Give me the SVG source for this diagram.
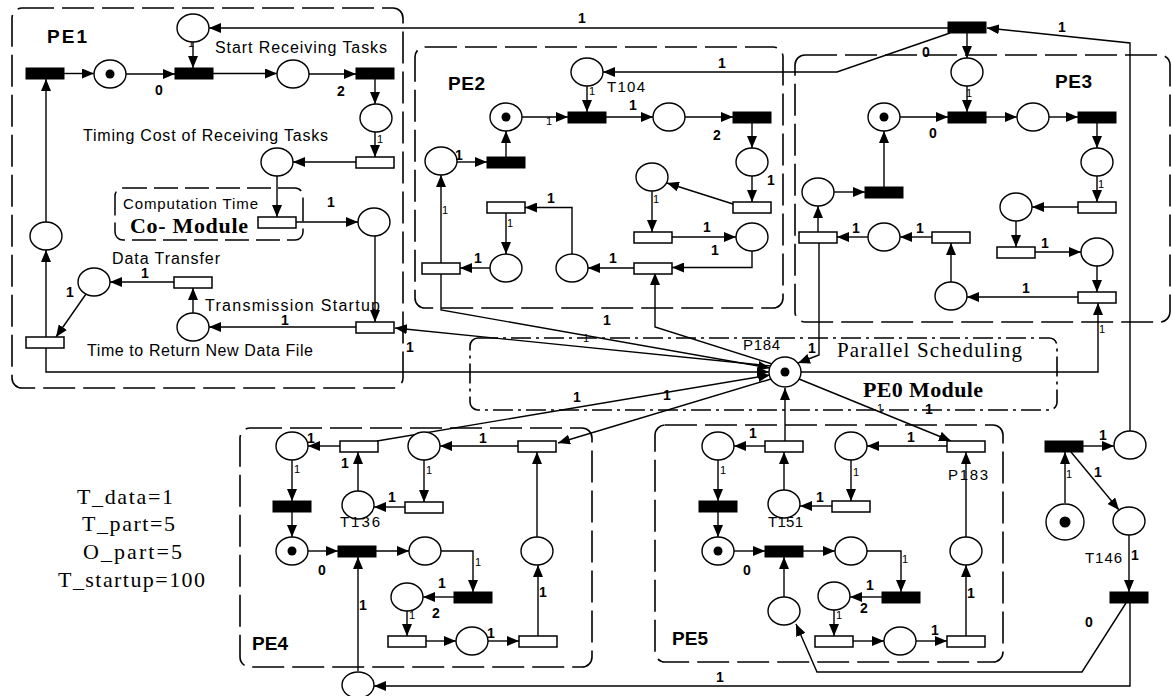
<svg xmlns="http://www.w3.org/2000/svg" width="1172" height="696" viewBox="0 0 1172 696">
<style>
.pl{fill:#fff;stroke:#000;stroke-width:1.4}
.tk{fill:#000}
.tb{fill:#000;stroke:#000;stroke-width:1}
.tw{fill:#fff;stroke:#000;stroke-width:1.5}
.ar{fill:none;stroke:#000;stroke-width:1.4;marker-end:url(#ah)}
.ln{fill:none;stroke:#000;stroke-width:1.4}
.box{fill:none;stroke:#000;stroke-width:1.6;stroke-dasharray:32 8}
.box0{fill:none;stroke:#000;stroke-width:1.6;stroke-dasharray:20 5 3 5}
.cbox{fill:none;stroke:#000;stroke-width:1.5;stroke-dasharray:24 7}
.n{font-family:"Liberation Sans",Arial,sans-serif;font-size:14px;font-weight:bold}
.s{font-family:"Liberation Sans",Arial,sans-serif;font-size:11px}
.t{font-family:"Liberation Sans",Arial,sans-serif;font-size:16px}
.id{font-family:"Liberation Sans",Arial,sans-serif;font-size:15px}
.pe{font-family:"Liberation Sans",Arial,sans-serif;font-size:19px;font-weight:bold}
.sb{font-family:"Liberation Serif","Times New Roman",serif;font-size:22px;font-weight:bold}
.sr{font-family:"Liberation Serif","Times New Roman",serif;font-size:21px}
.lg{font-family:"Liberation Serif","Times New Roman",serif;font-size:22px}
</style>
<defs>
<marker id="ah" markerUnits="userSpaceOnUse" markerWidth="12" markerHeight="10" refX="12" refY="5" orient="auto"><path d="M0,0 L12,5 L0,10 z" fill="#000"/></marker>
</defs>
<rect x="0" y="0" width="1172" height="696" fill="#fff"/>

<!-- module boxes -->
<g id="modules">
<rect class="box" x="12" y="8" width="391" height="380" rx="10"/>
<rect class="cbox" x="115" y="188" width="188" height="52" rx="8"/>
<rect class="box" x="415" y="47" width="368" height="261" rx="10"/>
<rect class="box" x="795" y="55" width="375" height="267" rx="10"/>
<rect class="box0" x="470" y="338" width="587" height="72" rx="8"/>
<rect class="box" x="240" y="428" width="352" height="239" rx="10"/>
<rect class="box" x="655" y="425" width="348" height="237" rx="10"/>
<text class="pe" x="47" y="43" textLength="40">PE1</text>
<text class="pe" x="448" y="90" textLength="37">PE2</text>
<text class="pe" x="1055" y="88" textLength="37">PE3</text>
<text class="pe" x="252" y="650" textLength="36">PE4</text>
<text class="pe" x="672" y="645" textLength="36">PE5</text>
<text class="t" x="215" y="53" textLength="172">Start Receiving Tasks</text>
<text class="t" x="83" y="141" textLength="245">Timing Cost of Receiving Tasks</text>
<text class="t" x="123" y="209" textLength="135" style="font-size:15px">Computation Time</text>
<text class="sb" x="130" y="233" textLength="118">Co- Module</text>
<text class="t" x="112" y="264" textLength="108">Data Transfer</text>
<text class="t" x="205" y="311" textLength="175">Transmission Startup</text>
<text class="t" x="87" y="356" textLength="226">Time to Return New Data File</text>
<text class="sr" x="837" y="357" textLength="185">Parallel Scheduling</text>
<text class="sb" x="863" y="397" textLength="120">PE0 Module</text>
</g>

<g id="legend">
<text class="lg" x="77" y="504" textLength="96">T_data=1</text>
<text class="lg" x="82" y="531" textLength="93">T_part=5</text>
<text class="lg" x="83" y="559" textLength="99">O_part=5</text>
<text class="lg" x="58" y="587" textLength="147">T_startup=100</text>
</g>

<!-- connectors -->
<g id="connectors">
<!-- PE1 -->
<path class="ar" d="M64,73.5 H94"/>
<path class="ar" d="M126,74 H175"/>
<path class="ar" d="M193,42 V68"/>
<path class="ar" d="M213,73.5 H277"/>
<path class="ar" d="M309,74 H356"/>
<path class="ar" d="M375,79 V104"/>
<path class="ar" d="M375,132 V157"/>
<path class="ar" d="M356,162 H293"/>
<path class="ar" d="M277,176 V217"/>
<path class="ar" d="M296,222 H358"/>
<path class="ar" d="M375,236 V322"/>
<path class="ar" d="M356,327 H209"/>
<path class="ar" d="M193,313 V288"/>
<path class="ar" d="M174,282 H110"/>
<path class="ar" d="M86,294 L56,337"/>
<path class="ar" d="M46,337 V250"/>
<path class="ar" d="M46,222 V79"/>
<path class="ar" d="M46,348 V372 H769"/>
<path class="ar" d="M771,366 L395,328"/>
<path class="ar" d="M948,28 H209"/>
<!-- PE2 -->
<path class="ar" d="M587,86 V112"/>
<path class="ar" d="M522,117 H568"/>
<path class="ar" d="M606,117 H653"/>
<path class="ar" d="M685,117 H733"/>
<path class="ar" d="M752,123 V148"/>
<path class="ar" d="M752,176 V202"/>
<path class="ar" d="M733,204 L667,183"/>
<path class="ar" d="M652,191 V232"/>
<path class="ar" d="M672,237 H736"/>
<path class="ar" d="M752,251 V267.5 H672"/>
<path class="ar" d="M772,364 L655,327 V273"/>
<path class="ar" d="M634,268 H588"/>
<path class="ar" d="M572,254 V207.5 H525"/>
<path class="ar" d="M506,213 V254"/>
<path class="ar" d="M490,268 H460"/>
<path class="ar" d="M441,263 V175"/>
<path class="ar" d="M457,162 H487"/>
<path class="ar" d="M506,157 V131"/>
<path class="ar" d="M441,274 V310 L770,368"/>
<path class="ar" d="M950,33 L837,72 H603"/>
<!-- PE3 -->
<path class="ar" d="M967,33 V58"/>
<path class="ar" d="M967,86 V112"/>
<path class="ar" d="M900,117 H948"/>
<path class="ar" d="M986,117 H1017"/>
<path class="ar" d="M1049,117 H1078"/>
<path class="ar" d="M1097,123 V148"/>
<path class="ar" d="M1097,176 V202"/>
<path class="ar" d="M1078,207 H1032"/>
<path class="ar" d="M1016,221 V247"/>
<path class="ar" d="M1035,252 H1081"/>
<path class="ar" d="M1097,266 V292"/>
<path class="ar" d="M1078,297 H967"/>
<path class="ar" d="M951,282 V243"/>
<path class="ar" d="M932,237 H900"/>
<path class="ar" d="M868,237 H837"/>
<path class="ar" d="M818,232 V206"/>
<path class="ar" d="M834,192 H865"/>
<path class="ar" d="M884,187 V131"/>
<path class="ar" d="M819,243 V355 L798,363"/>
<path class="ar" d="M801,372 H1098 V303"/>
<!-- PE4 -->
<path class="ar" d="M340,446 H308"/>
<path class="ar" d="M518,446 H440"/>
<path class="ar" d="M424,460 V502"/>
<path class="ar" d="M405,507 H374"/>
<path class="ar" d="M358,491 V452"/>
<path class="ar" d="M292,460 V501"/>
<path class="ar" d="M292,512 V537"/>
<path class="ar" d="M308,551 H338"/>
<path class="ar" d="M376,551 H409"/>
<path class="ar" d="M441,551 H473 V592"/>
<path class="ar" d="M454,597 H423"/>
<path class="ar" d="M407,611 V636"/>
<path class="ar" d="M426,641 H456"/>
<path class="ar" d="M488,641 H519"/>
<path class="ar" d="M538,636 V565"/>
<path class="ar" d="M537,537 V452"/>
<path class="ar" d="M358,671 V557"/>
<path class="ar" d="M377,441 L770,375"/>
<path class="ar" d="M771,379 L558,443"/>
<path class="ar" d="M1130,603 V686 H374"/>
<!-- PE5 -->
<path class="ar" d="M765,446 H734"/>
<path class="ar" d="M947,446 H867"/>
<path class="ar" d="M851,460 V501"/>
<path class="ar" d="M832,506 H800"/>
<path class="ar" d="M784,490 V452"/>
<path class="ar" d="M718,460 V501"/>
<path class="ar" d="M718,512 V537"/>
<path class="ar" d="M734,551 H765"/>
<path class="ar" d="M803,551 H835"/>
<path class="ar" d="M867,551 H901 V592"/>
<path class="ar" d="M882,597 H850"/>
<path class="ar" d="M834,610 V636"/>
<path class="ar" d="M853,641 H884"/>
<path class="ar" d="M916,641 H947"/>
<path class="ar" d="M966,636 V565"/>
<path class="ar" d="M966,537 V452"/>
<path class="ar" d="M784,597 V557"/>
<path class="ar" d="M785,441 V388"/>
<path class="ar" d="M799,379 L951,441"/>
<path class="ar" d="M1126,603 L1082,672 H817 L796,624"/>
<!-- control -->
<path class="ar" d="M1130,431 V43 L987,28"/>
<path class="ar" d="M1083,446 H1114"/>
<path class="ar" d="M1071,452 L1119,510"/>
<path class="ar" d="M1065,503 V452"/>
<path class="ar" d="M1129,535 V592"/>

<!-- arc weights -->
<text class="n" x="155" y="95">0</text>
<text class="n" x="337" y="96">2</text>
<text class="n" x="327" y="207">1</text>
<text class="n" x="141" y="278">1</text>
<text class="n" x="66" y="297">1</text>
<text class="n" x="281" y="325">1</text>
<text class="n" x="406" y="352">1</text>
<text class="s" x="188" y="47">1</text>
<text class="s" x="377" y="143">1</text>
<text class="n" x="578" y="23">1</text>
<text class="n" x="629" y="110">1</text>
<text class="n" x="713" y="140">2</text>
<text class="n" x="767" y="185">1</text>
<text class="n" x="455" y="160">1</text>
<text class="n" x="547" y="203">1</text>
<text class="n" x="474" y="263">1</text>
<text class="n" x="609" y="263">1</text>
<text class="n" x="703" y="232">1</text>
<text class="n" x="711" y="255">1</text>
<text class="n" x="718" y="68">1</text>
<text class="s" x="589" y="95">1</text>
<text class="s" x="546" y="125">1</text>
<text class="s" x="653" y="203">1</text>
<text class="s" x="507" y="227">1</text>
<text class="s" x="442" y="214">1</text>
<text class="n" x="603" y="325">1</text>
<text class="s" x="583" y="342">1</text>
<text class="n" x="929" y="138">0</text>
<text class="n" x="922" y="57">0</text>
<text class="n" x="1058" y="32">1</text>
<text class="n" x="852" y="233">1</text>
<text class="n" x="916" y="233">1</text>
<text class="n" x="1041" y="248">1</text>
<text class="n" x="1022" y="293">1</text>
<text class="n" x="808" y="353">1</text>
<text class="s" x="966" y="97">1</text>
<text class="s" x="1098" y="188">1</text>
<text class="s" x="1099" y="333">1</text>
<text class="s" x="877" y="412">1</text>
<text class="n" x="925" y="414">1</text>
<text class="n" x="307" y="443">1</text>
<text class="n" x="341" y="468">1</text>
<text class="n" x="479" y="443">1</text>
<text class="n" x="388" y="502">1</text>
<text class="n" x="573" y="402">1</text>
<text class="n" x="663" y="400">1</text>
<text class="n" x="318" y="575">0</text>
<text class="s" x="475" y="566">1</text>
<text class="n" x="438" y="588">1</text>
<text class="n" x="432" y="618">2</text>
<text class="s" x="409" y="619">1</text>
<text class="n" x="487" y="638">1</text>
<text class="n" x="539" y="597">1</text>
<text class="n" x="359" y="610">1</text>
<text class="s" x="294" y="473">1</text>
<text class="s" x="426" y="474">1</text>
<text class="n" x="716" y="682">1</text>
<text class="n" x="749" y="438">1</text>
<text class="n" x="907" y="442">1</text>
<text class="n" x="816" y="502">1</text>
<text class="n" x="743" y="575">0</text>
<text class="n" x="866" y="590">1</text>
<text class="n" x="860" y="613">2</text>
<text class="n" x="931" y="635">1</text>
<text class="n" x="967" y="598">1</text>
<text class="s" x="853" y="476">1</text>
<text class="s" x="720" y="474">1</text>
<text class="s" x="902" y="563">1</text>
<text class="s" x="836" y="619">1</text>
<text class="s" x="823" y="644">1</text>
<text class="n" x="1085" y="627">0</text>
<text class="n" x="1099" y="440">1</text>
<text class="n" x="1094" y="477">1</text>
<text class="s" x="1066" y="478">1</text>
<text class="n" x="1131" y="560">1</text>
</g>

<!-- PE1 nodes -->
<g id="pe1">
<g id="p1a"><ellipse class="pl" cx="110" cy="74" rx="16" ry="14"/><circle class="tk" cx="110" cy="74" r="4.5"/></g>
<g id="p1b"><ellipse class="pl" cx="193" cy="28" rx="16" ry="14"/></g>
<g id="p1c"><ellipse class="pl" cx="293" cy="74" rx="16" ry="14"/></g>
<g id="p1d"><ellipse class="pl" cx="376" cy="118" rx="16" ry="14"/></g>
<g id="p1e"><ellipse class="pl" cx="277" cy="162" rx="16" ry="14"/></g>
<g id="p1f"><ellipse class="pl" cx="374" cy="222" rx="16" ry="14"/></g>
<g id="p1g"><ellipse class="pl" cx="46" cy="236" rx="16" ry="14"/></g>
<g id="p1h"><ellipse class="pl" cx="94" cy="282" rx="16" ry="14"/></g>
<g id="p1i"><ellipse class="pl" cx="193" cy="327" rx="16" ry="14"/></g>
<g id="t1a"><rect class="tb" x="26" y="68" width="38" height="11"/></g>
<g id="t1b"><rect class="tb" x="175" y="68" width="38" height="11"/></g>
<g id="t1c"><rect class="tb" x="356" y="68" width="38" height="11"/></g>
<g id="t1d"><rect class="tw" x="356" y="157" width="38" height="11"/></g>
<g id="t1e"><rect class="tw" x="258" y="217" width="38" height="11"/></g>
<g id="t1f"><rect class="tw" x="174" y="277" width="38" height="11"/></g>
<g id="t1g"><rect class="tw" x="356" y="322" width="38" height="11"/></g>
<g id="t1h"><rect class="tw" x="26" y="337" width="38" height="11"/></g>
</g>

<!-- PE2 nodes -->
<g id="pe2">
<g id="p2a"><ellipse class="pl" cx="587" cy="72" rx="16" ry="14"/><text class="id" x="607" y="92" textLength="38">T104</text></g>
<g id="p2b"><ellipse class="pl" cx="506" cy="117" rx="16" ry="14"/><circle class="tk" cx="506" cy="117" r="4.5"/></g>
<g id="p2c"><ellipse class="pl" cx="669" cy="117" rx="16" ry="14"/></g>
<g id="p2d"><ellipse class="pl" cx="752" cy="162" rx="16" ry="14"/></g>
<g id="p2e"><ellipse class="pl" cx="441" cy="161" rx="16" ry="14"/></g>
<g id="p2f"><ellipse class="pl" cx="652" cy="177" rx="16" ry="14"/></g>
<g id="p2g"><ellipse class="pl" cx="752" cy="237" rx="16" ry="14"/></g>
<g id="p2h"><ellipse class="pl" cx="506" cy="268" rx="16" ry="14"/></g>
<g id="p2i"><ellipse class="pl" cx="572" cy="268" rx="16" ry="14"/></g>
<g id="t2a"><rect class="tb" x="568" y="112" width="38" height="11"/></g>
<g id="t2b"><rect class="tb" x="733" y="112" width="38" height="11"/></g>
<g id="t2c"><rect class="tb" x="487" y="157" width="38" height="11"/></g>
<g id="t2d"><rect class="tw" x="733" y="202" width="38" height="11"/></g>
<g id="t2e"><rect class="tw" x="487" y="202" width="38" height="11"/></g>
<g id="t2f"><rect class="tw" x="634" y="232" width="38" height="11"/></g>
<g id="t2g"><rect class="tw" x="422" y="263" width="38" height="11"/></g>
<g id="t2h"><rect class="tw" x="634" y="263" width="38" height="11"/></g>
</g>

<!-- PE3 nodes -->
<g id="pe3">
<g id="p3a"><ellipse class="pl" cx="967" cy="72" rx="16" ry="14"/></g>
<g id="p3b"><ellipse class="pl" cx="884" cy="117" rx="16" ry="14"/><circle class="tk" cx="884" cy="117" r="4.5"/></g>
<g id="p3c"><ellipse class="pl" cx="1033" cy="117" rx="16" ry="14"/></g>
<g id="p3d"><ellipse class="pl" cx="1097" cy="162" rx="16" ry="14"/></g>
<g id="p3e"><ellipse class="pl" cx="818" cy="192" rx="16" ry="14"/></g>
<g id="p3f"><ellipse class="pl" cx="1016" cy="207" rx="16" ry="14"/></g>
<g id="p3g"><ellipse class="pl" cx="884" cy="237" rx="16" ry="14"/></g>
<g id="p3h"><ellipse class="pl" cx="1097" cy="252" rx="16" ry="14"/></g>
<g id="p3i"><ellipse class="pl" cx="951" cy="296" rx="16" ry="14"/></g>
<g id="t3a"><rect class="tb" x="948" y="112" width="38" height="11"/></g>
<g id="t3b"><rect class="tb" x="1078" y="112" width="38" height="11"/></g>
<g id="t3c"><rect class="tb" x="865" y="187" width="38" height="11"/></g>
<g id="t3d"><rect class="tw" x="1078" y="202" width="38" height="11"/></g>
<g id="t3e"><rect class="tw" x="799" y="232" width="38" height="11"/></g>
<g id="t3f"><rect class="tw" x="932" y="232" width="38" height="11"/></g>
<g id="t3g"><rect class="tw" x="997" y="247" width="38" height="11"/></g>
<g id="t3h"><rect class="tw" x="1078" y="292" width="38" height="11"/></g>
</g>

<!-- PE0 node -->
<g id="pe0">
<g id="P184"><ellipse class="pl" cx="785" cy="372" rx="16" ry="15"/><circle class="tk" cx="785" cy="372" r="4.5"/><text class="id" x="743" y="350" textLength="37">P184</text></g>
</g>

<!-- PE4 nodes -->
<g id="pe4">
<g id="p4a"><ellipse class="pl" cx="292" cy="446" rx="16" ry="14"/></g>
<g id="p4b"><ellipse class="pl" cx="424" cy="446" rx="16" ry="14"/></g>
<g id="p4c"><ellipse class="pl" cx="358" cy="505" rx="16" ry="14"/><text class="id" x="340" y="527" textLength="40">T136</text></g>
<g id="p4d"><ellipse class="pl" cx="292" cy="551" rx="16" ry="14"/><circle class="tk" cx="292" cy="551" r="4.5"/></g>
<g id="p4e"><ellipse class="pl" cx="425" cy="551" rx="16" ry="14"/></g>
<g id="p4f"><ellipse class="pl" cx="537" cy="551" rx="16" ry="14"/></g>
<g id="p4g"><ellipse class="pl" cx="407" cy="597" rx="16" ry="14"/></g>
<g id="p4h"><ellipse class="pl" cx="472" cy="641" rx="16" ry="14"/></g>
<g id="p4i"><ellipse class="pl" cx="358" cy="685" rx="16" ry="13"/></g>
<g id="t4a"><rect class="tw" x="340" y="441" width="38" height="11"/></g>
<g id="t4b"><rect class="tw" x="518" y="441" width="38" height="11"/></g>
<g id="t4c"><rect class="tb" x="273" y="501" width="38" height="11"/></g>
<g id="t4d"><rect class="tw" x="405" y="502" width="38" height="11"/></g>
<g id="t4e"><rect class="tb" x="338" y="546" width="38" height="11"/></g>
<g id="t4f"><rect class="tb" x="454" y="592" width="38" height="11"/></g>
<g id="t4g"><rect class="tw" x="388" y="636" width="38" height="11"/></g>
<g id="t4h"><rect class="tw" x="519" y="636" width="38" height="11"/></g>
</g>

<!-- PE5 nodes -->
<g id="pe5">
<g id="p5a"><ellipse class="pl" cx="718" cy="446" rx="16" ry="14"/></g>
<g id="p5b"><ellipse class="pl" cx="851" cy="446" rx="16" ry="14"/></g>
<g id="p5c"><ellipse class="pl" cx="784" cy="504" rx="16" ry="14"/><text class="id" x="768" y="527" textLength="35">T151</text></g>
<g id="p5d"><ellipse class="pl" cx="718" cy="551" rx="16" ry="14"/><circle class="tk" cx="718" cy="551" r="4.5"/></g>
<g id="p5e"><ellipse class="pl" cx="851" cy="551" rx="16" ry="14"/></g>
<g id="p5f"><ellipse class="pl" cx="966" cy="551" rx="16" ry="14"/></g>
<g id="p5g"><ellipse class="pl" cx="834" cy="596" rx="16" ry="14"/></g>
<g id="p5h"><ellipse class="pl" cx="900" cy="641" rx="16" ry="14"/></g>
<g id="p5i"><ellipse class="pl" cx="784" cy="611" rx="16" ry="14"/></g>
<g id="t5a"><rect class="tw" x="765" y="441" width="38" height="11"/></g>
<g id="t5b"><rect class="tw" x="947" y="441" width="38" height="11"/><text class="id" x="948" y="480" textLength="40">P183</text></g>
<g id="t5c"><rect class="tb" x="699" y="501" width="38" height="11"/></g>
<g id="t5d"><rect class="tw" x="832" y="501" width="38" height="11"/></g>
<g id="t5e"><rect class="tb" x="765" y="546" width="38" height="11"/></g>
<g id="t5f"><rect class="tb" x="882" y="592" width="38" height="11"/></g>
<g id="t5g"><rect class="tw" x="815" y="636" width="38" height="11"/></g>
<g id="t5h"><rect class="tw" x="947" y="636" width="38" height="11"/></g>
</g>

<!-- control nodes -->
<g id="ctrl">
<g id="Ttop"><rect class="tb" x="948" y="22" width="38" height="11"/></g>
<g id="Tr1"><rect class="tb" x="1045" y="441" width="38" height="11"/></g>
<g id="pr1"><ellipse class="pl" cx="1130" cy="445" rx="16" ry="14"/></g>
<g id="pr2"><ellipse class="pl" cx="1065" cy="522" rx="19" ry="18"/><circle class="tk" cx="1065" cy="522" r="5.5"/></g>
<g id="pr3"><ellipse class="pl" cx="1129" cy="521" rx="16" ry="14"/><text class="id" x="1085" y="563" textLength="37">T146</text></g>
<g id="Tr2"><rect class="tb" x="1110" y="592" width="38" height="11"/></g>
</g>
</svg>
